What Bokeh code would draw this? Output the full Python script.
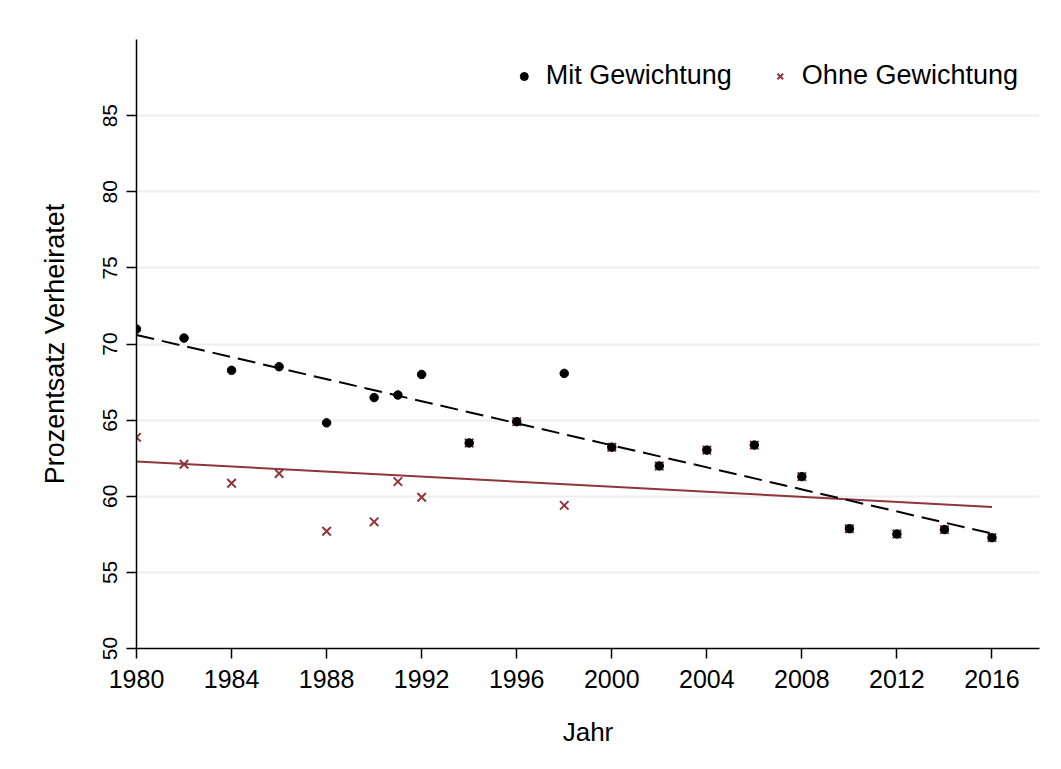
import numpy as np
from bokeh.plotting import figure
from bokeh.models import Range1d, FixedTicker, Legend, LegendItem
from bokeh.embed import file_html
from bokeh.resources import INLINE

years = [1980, 1982, 1984, 1986, 1988, 1990, 1991, 1992, 1994, 1996, 1998,
         2000, 2002, 2004, 2006, 2008, 2010, 2012, 2014, 2016]
mit = [70.98, 70.39, 68.27, 68.51, 64.82, 66.48, 66.65, 68.00, 63.50, 64.90, 68.07,
       63.22, 61.99, 63.03, 63.36, 61.29, 57.87, 57.52, 57.81, 57.28]
ohne = [63.87, 62.10, 60.85, 61.49, 57.70, 58.32, 60.96, 59.93, 63.50, 64.90, 59.40,
        63.22, 61.99, 63.03, 63.36, 61.29, 57.87, 57.52, 57.81, 57.28]
x_ticks = [1980, 1984, 1988, 1992, 1996, 2000, 2004, 2008, 2012, 2016]
y_ticks = [50, 55, 60, 65, 70, 75, 80, 85]

RED = "#90353b"
FONT = "Liberation Sans"

p = figure(width=1060, height=768, output_backend="svg", toolbar_location=None,
           x_range=Range1d(1980, 2018), y_range=Range1d(50, 90),
           min_border_left=136, min_border_right=21, min_border_top=39, min_border_bottom=120)
p.outline_line_color = None
p.background_fill_color = "white"
p.border_fill_color = "white"

# axes
p.xaxis.ticker = FixedTicker(ticks=x_ticks)
p.yaxis.ticker = FixedTicker(ticks=y_ticks)
for ax in (p.xaxis[0], p.yaxis[0]):
    ax.axis_line_color = "black"
    ax.axis_line_width = 1.5
    ax.major_tick_line_color = "black"
    ax.major_tick_line_width = 1.5
    ax.major_tick_out = 10
    ax.major_tick_in = 0
    ax.minor_tick_line_color = None
    ax.major_label_text_font = FONT
    ax.major_label_text_color = "black"
    ax.axis_label_text_font = FONT
    ax.axis_label_text_font_style = "normal"
    ax.axis_label_text_color = "black"

p.xaxis.axis_label = "Jahr"
p.xaxis.major_label_text_font_size = "25px"
p.xaxis.major_label_standoff = 11
p.xaxis.axis_label_standoff = 26
p.xaxis.axis_label_text_font_size = "26px"

p.yaxis.axis_label = "Prozentsatz Verheiratet"
p.yaxis.major_label_text_font_size = "21px"
p.yaxis.major_label_orientation = "vertical"
p.yaxis.major_label_standoff = 10
p.yaxis.axis_label_standoff = 30
p.yaxis.axis_label_text_font_size = "27px"

p.xgrid.grid_line_color = None
p.ygrid.grid_line_color = "#eeeeee"
p.ygrid.grid_line_width = 2
p.ygrid.ticker = FixedTicker(ticks=[55, 60, 65, 70, 75, 80, 85])

# fitted lines from data
yr = np.array(years, dtype=float)
b_m, a_m = np.polyfit(yr, np.array(mit), 1)
b_o, a_o = np.polyfit(yr, np.array(ohne), 1)
x_fit = np.array([min(years), max(years)], dtype=float)

s_ohne = p.scatter(years, ohne, marker="x", size=12, line_color=RED, line_width=2)
s_mit = p.scatter(years, mit, marker="circle", size=8.5, fill_color="black", line_color="black")
p.line(x_fit, a_o + b_o * x_fit, line_color=RED, line_width=2)
p.line(x_fit, a_m + b_m * x_fit, line_color="black", line_width=2, line_dash="18 8")

legend = Legend(items=[LegendItem(label="Mit Gewichtung", renderers=[s_mit]),
                       LegendItem(label="Ohne Gewichtung", renderers=[s_ohne])],
                orientation="horizontal", location="top_right")
legend.label_text_font = FONT
legend.label_text_font_size = "27px"
legend.label_text_color = "black"
legend.border_line_color = None
legend.background_fill_alpha = 0
legend.glyph_width = 20
legend.label_standoff = 12
legend.spacing = 38
legend.padding = 17
legend.margin = 21
p.add_layout(legend)

open("out.html", "w").write(file_html(p, INLINE))
